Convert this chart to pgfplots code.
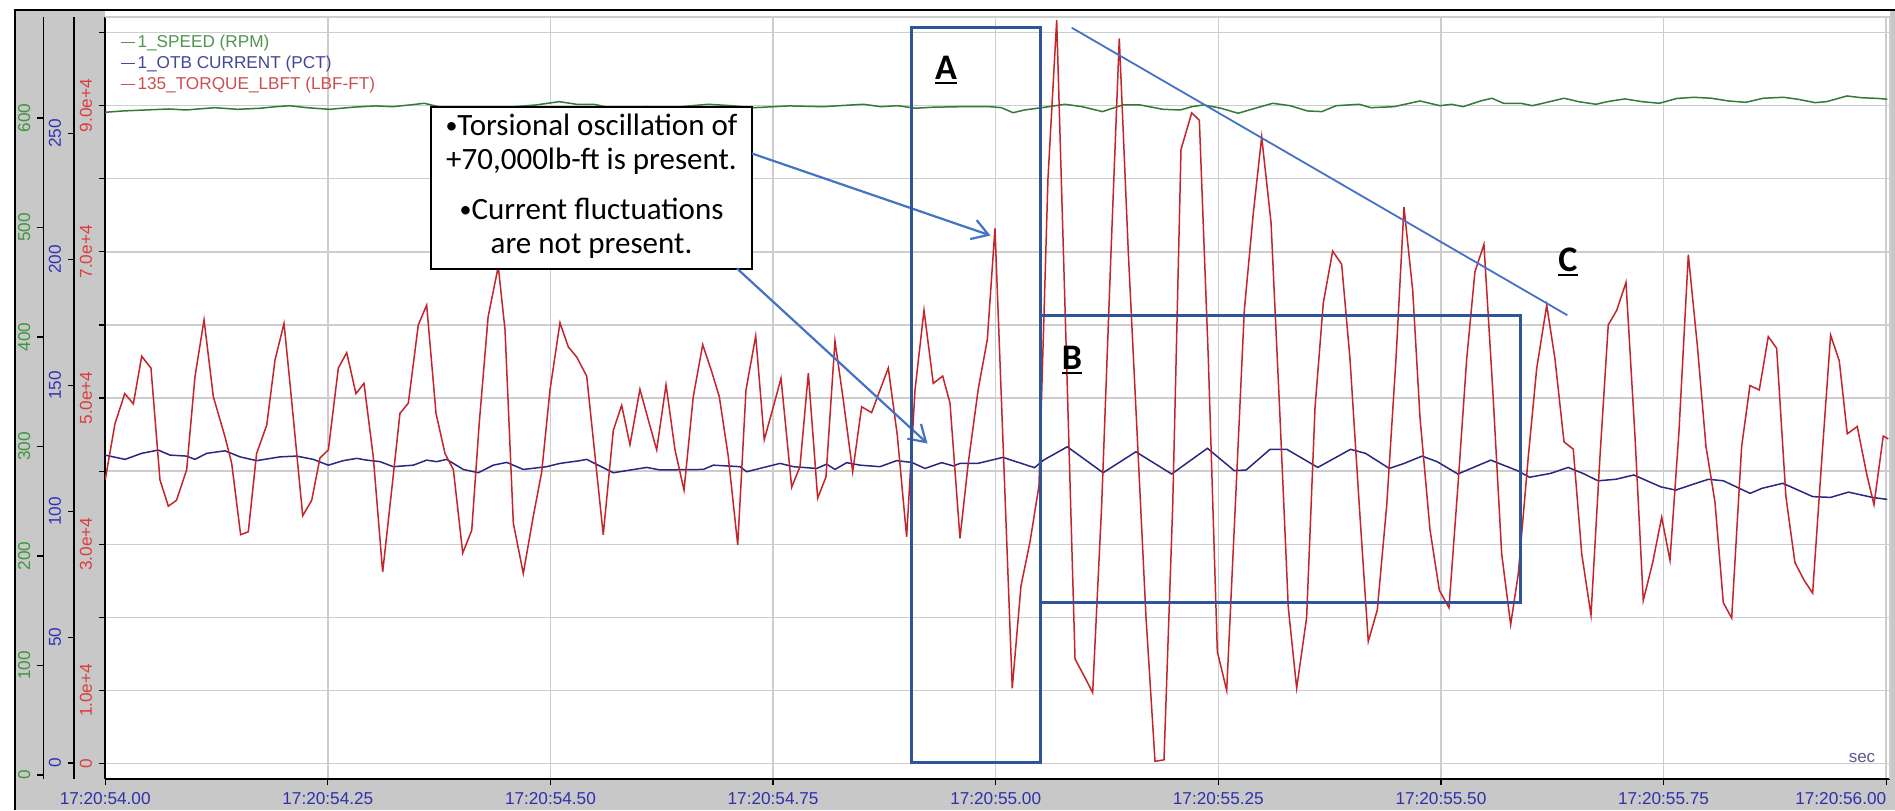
\documentclass[border=0pt]{standalone}
\usepackage{fontspec}
\setmainfont{Liberation Sans}
\newfontfamily\calfont{Carlito}
\usepackage{pgfplots}
\pgfplotsset{compat=1.18}
\usetikzlibrary{arrows.meta}

\definecolor{trq}{RGB}{196,36,44}
\definecolor{cur}{RGB}{40,40,130}
\definecolor{spd}{RGB}{52,122,52}
\definecolor{gridc}{RGB}{205,205,205}
\definecolor{strip}{RGB}{200,200,200}
\definecolor{tickblue}{RGB}{48,48,170}
\definecolor{lblgreen}{RGB}{60,150,60}
\definecolor{lblblue}{RGB}{50,50,185}
\definecolor{lblred}{RGB}{222,60,60}
\definecolor{leggreen}{RGB}{80,150,80}
\definecolor{legblue}{RGB}{70,70,150}
\definecolor{legred}{RGB}{205,80,80}
\definecolor{annoDark}{RGB}{47,85,151}
\definecolor{annoLight}{RGB}{68,114,196}
\definecolor{secgray}{RGB}{90,90,140}

\newcommand\ul[1]{\setbox0\hbox{#1}\rlap{\rule[-2.6pt]{\wd0}{1.3pt}}\box0}
\newcommand\bul{\raisebox{0.8pt}{\fontsize{12}{12}\selectfont•}}

\pgfplotsset{
  common/.style={
    at={(52.6pt,-389.5pt)}, anchor=south west,
    scale only axis, width=892.4pt, height=381pt,
    xmin=0, xmax=2.0043, clip=true},
  ticklbl/.style={font=\fontsize{8.6}{10}\selectfont},
}

\begin{document}
\begin{tikzpicture}
\path[use as bounding box] (0pt,0pt) rectangle (947.5pt,-405pt);
\fill[white] (0pt,0pt) rectangle (947.5pt,-405pt);
\fill[strip] (7.5pt,-5pt) rectangle (947.5pt,-405pt);
\fill[white] (52.6pt,-5pt) rectangle (945pt,-389.5pt);
\draw[black,line width=1pt] (7.5pt,-405pt) -- (7.5pt,-5pt) -- (947.5pt,-5pt);

% ---------- main axis: grid, x ticks, torque scale, legend ----------
\begin{axis}[common,
  ymin=-2120, ymax=102120,
  axis x line*=bottom, axis y line*=left,
  axis line style={black, line width=0.8pt},
  tick align=outside, major tick length=3pt,
  tick style={black, line width=0.6pt},
  xtick={0,0.25,0.5,0.75,1,1.25,1.5,1.75,2},
  xticklabels={17:20:54.00,17:20:54.25,17:20:54.50,17:20:54.75,17:20:55.00,17:20:55.25,17:20:55.50,17:20:55.75,\makebox[0pt][r]{17:20:56.00}},
  xticklabel style={ticklbl, text=tickblue},
  ytick={0,10000,20000,30000,40000,50000,60000,70000,80000,90000,100000},
  yticklabels={0,1.0e+4,{},3.0e+4,{},5.0e+4,{},7.0e+4,{},9.0e+4,{}},
  yticklabel style={ticklbl, text=lblred, rotate=90, anchor=south},
  scaled y ticks=false,
  grid=major, major grid style={gridc, line width=0.7pt},
  legend style={at={(0.0049,0.986)}, anchor=north west, draw=none, fill=none,
    font=\fontsize{8.6}{10}\selectfont, row sep=0.3pt,
    nodes={inner sep=1pt, text height=6.5pt, text depth=1.8pt}},
  legend cell align=left,
  legend image code/.code={\draw[#1, line width=0.6pt] (-1pt,0pt) -- (6pt,0pt);},
]
\addlegendimage{leggreen}
\addlegendentry{\textcolor{leggreen}{1\_SPEED (RPM)}}
\addlegendimage{legblue}
\addlegendentry{\textcolor{legblue}{1\_OTB CURRENT (PCT)}}
\addlegendimage{legred}
\addlegendentry{\textcolor{legred}{135\_TORQUE\_LBFT (LBF-FT)}}
\end{axis}

% ---------- current ----------
\begin{axis}[common, ymin=-6.35, ymax=296.3, hide axis]
\addplot[cur, line width=0.75pt] coordinates {
(0,122.3) (0.0222,120.6) (0.0410,123.0) (0.0596,124.3) (0.0728,122.3) (0.0915,121.9)
(0.1008,120.6) (0.1140,123.0) (0.1345,124.0) (0.1514,121.6) (0.1701,120.1) (0.1963,121.6)
(0.2150,121.9) (0.2337,120.6) (0.2505,118.3) (0.2674,120.1) (0.2824,121.0) (0.2937,120.3)
(0.3086,119.7) (0.3235,117.7) (0.3460,118.3) (0.3610,120.3) (0.3723,119.7) (0.3835,120.6)
(0.4021,116.6) (0.4190,115.3) (0.4358,118.3) (0.4509,119.4) (0.4695,116.6) (0.4958,117.7)
(0.5107,119.0) (0.5332,120.1) (0.5407,120.6) (0.5706,115.3) (0.6081,117.4) (0.6230,116.4)
(0.6716,116.6) (0.6829,118.3) (0.7129,117.7) (0.7204,115.7) (0.7578,119.0) (0.7727,117.7)
(0.7990,117.0) (0.8102,118.7) (0.8195,116.6) (0.8327,119.3) (0.8476,118.3) (0.8701,117.7)
(0.8888,120.1) (0.9057,119.4) (0.9206,117.0) (0.9394,119.3) (0.9524,118.0) (0.9599,119.0)
(0.9800,119.0) (1.0081,121.4) (1.0436,117.3) (1.0537,120.3) (1.0804,125.6) (1.1206,115.3)
(1.1574,123.6) (1.1976,114.8) (1.2378,125.0) (1.2679,116.1) (1.2813,116.4) (1.3081,124.6)
(1.3269,124.6) (1.3617,117.4) (1.3985,124.6) (1.4153,123.0) (1.4420,117.0) (1.4587,119.0)
(1.4788,121.9) (1.4956,119.7) (1.5190,114.8) (1.5559,120.3) (1.5860,116.1) (1.5994,113.5)
(1.6228,115.0) (1.6429,117.4) (1.6596,115.0) (1.6764,112.1) (1.6965,112.7) (1.7166,114.4)
(1.7468,109.7) (1.7635,108.4) (1.8003,112.7) (1.8171,112.1) (1.8472,107.1) (1.8605,109.1)
(1.8840,111.1) (1.9175,105.8) (1.9376,105.5) (1.9577,107.6) (1.9844,105.5) (2.0012,104.7)
};
\end{axis}

% ---------- speed ----------
\begin{axis}[common, ymin=-3.65, ymax=692.2, hide axis]
\addplot[spd, line width=0.75pt] coordinates {
(0,605.2) (0.020,606.4) (0.0457,607.3) (0.0715,608.2) (0.0908,607.3) (0.1231,609.4)
(0.1489,607.9) (0.1746,608.9) (0.1875,610.0) (0.2069,611.2) (0.2263,609.4) (0.2520,607.9)
(0.2778,609.8) (0.3035,611.0) (0.3230,610.3) (0.3423,611.9) (0.3583,613.4) (0.3745,610.3)
(0.4067,608.9) (0.4454,609.4) (0.4841,611.9) (0.5098,614.9) (0.5293,612.5) (0.5486,612.5)
(0.5743,608.2) (0.6065,610.3) (0.6389,609.8) (0.6775,612.5) (0.7033,611.2) (0.7290,609.4)
(0.7678,611.0) (0.8064,610.3) (0.8386,611.9) (0.8515,612.5) (0.8709,610.3) (0.8902,611.2)
(0.9096,608.9) (0.9289,609.8) (0.9611,610.3) (0.9936,610.3) (1.0065,609.4) (1.0195,604.8)
(1.0324,607.3) (1.0519,609.4) (1.0778,612.5) (1.0972,610.3) (1.1199,605.8) (1.1426,611.9)
(1.1620,611.9) (1.1880,607.9) (1.2074,607.3) (1.2204,610.3) (1.2333,611.9) (1.2528,608.9)
(1.2722,604.3) (1.2916,608.9) (1.3111,613.4) (1.3306,611.2) (1.3500,606.4) (1.3662,605.8)
(1.3824,611.2) (1.4083,612.5) (1.4212,609.4) (1.4472,610.3) (1.4764,615.5) (1.4990,611.2)
(1.5120,612.5) (1.5250,610.3) (1.5444,615.5) (1.5573,618.0) (1.5703,613.4) (1.5898,613.4)
(1.6027,611.2) (1.6221,614.9) (1.6383,618.0) (1.6546,614.9) (1.6740,612.5) (1.6869,614.9)
(1.7064,617.4) (1.7259,614.9) (1.7453,613.4) (1.7647,617.8) (1.7842,618.9) (1.8036,618.0)
(1.8230,615.5) (1.8425,614.3) (1.8619,618.0) (1.8846,618.9) (1.9007,617.1) (1.9202,614.0)
(1.9332,614.9) (1.9559,620.1) (1.9720,618.5) (1.9915,617.8) (2.0012,617.1)
};
\end{axis}

% ---------- torque ----------
\begin{axis}[common, ymin=-2120, ymax=102120, hide axis]
\addplot[trq, line width=0.75pt] coordinates {
(0,38800) (0.011,46500) (0.022,50600) (0.0316,49200) (0.041,55700) (0.0514,54100)
(0.0615,38800) (0.0709,35200) (0.080,36000) (0.0915,40200) (0.1008,52900) (0.111,60700)
(0.1214,50200) (0.1345,44700) (0.142,41100) (0.1521,31300) (0.1607,31700) (0.170,42400)
(0.1814,46300) (0.1907,55200) (0.2008,60200) (0.2075,52000) (0.2218,33900) (0.2319,36000)
(0.2412,41800) (0.2506,42900) (0.2618,54100) (0.2712,56200) (0.2816,50600) (0.2906,52000)
(0.301,42000) (0.3116,26200) (0.3217,37400) (0.331,47900) (0.3404,49300) (0.3516,60000)
(0.361,62700) (0.3715,47900) (0.3816,42400) (0.391,40200) (0.4015,28800) (0.4116,31900)
(0.420,46500) (0.430,61100) (0.4414,68000) (0.449,59300) (0.4583,32900) (0.4695,26000)
(0.4807,33800) (0.4902,39900) (0.4995,51100) (0.5107,60300) (0.5200,57000) (0.5295,55600)
(0.5407,53000) (0.5593,31300) (0.5706,45600) (0.5800,49000) (0.5893,43600) (0.6005,51200)
(0.6099,47000) (0.6193,42900) (0.6298,51800) (0.6399,42900) (0.6500,37400) (0.6604,50200)
(0.6710,57300) (0.6811,53600) (0.6896,50200) (0.6997,42000) (0.7103,29900) (0.7196,51100)
(0.7305,58500) (0.7401,44300) (0.7503,48800) (0.7589,52700) (0.7709,37800) (0.7802,40600)
(0.7896,53400) (0.8001,36300) (0.8094,39200) (0.8195,57800) (0.8289,49700) (0.8394,39900)
(0.8495,48800) (0.8607,48000) (0.8701,51100) (0.8794,54100) (0.8895,44900) (0.9000,31000)
(0.9094,51100) (0.9195,62000) (0.9299,52000) (0.9405,53000) (0.9487,49300) (0.9599,30800)
(0.9692,41100) (0.9805,51300) (0.9906,58000) (0.9992,73200) (1.0186,10300) (1.0284,24300)
(1.0385,30300) (1.0486,38000) (1.0587,80000) (1.0685,101700) (1.0789,58000) (1.0891,14300)
(1.0992,12000) (1.1089,9700) (1.1190,35300) (1.1291,68700) (1.1388,99200) (1.1489,70000)
(1.1590,44700) (1.1688,20000) (1.1789,300) (1.1890,500) (1.1988,35300) (1.2081,84000)
(1.2201,89000) (1.2287,88000) (1.2388,55300) (1.2489,15300) (1.2594,10000) (1.2691,35300)
(1.2792,62000) (1.2893,75300) (1.2987,85700) (1.3092,74000) (1.3193,47300) (1.3286,21300)
(1.3380,10300) (1.3492,20000) (1.3586,48700) (1.3679,63000) (1.3784,70100) (1.3885,68300)
(1.3979,55300) (1.4083,35300) (1.4184,16700) (1.4285,21000) (1.4391,35300) (1.4495,55300)
(1.4585,76100) (1.4683,64700) (1.4765,47300) (1.4877,32000) (1.4982,23700) (1.5090,21300)
(1.5195,38700) (1.5289,55300) (1.5382,67300) (1.5483,71000) (1.5581,51300) (1.5682,28700)
(1.5783,19000) (1.5869,26000) (1.5981,42000) (1.6075,54000) (1.6188,62700) (1.6281,55300)
(1.6382,44000) (1.6486,43000) (1.6581,28700) (1.6685,20300) (1.6786,42000) (1.6879,60000)
(1.6974,62000) (1.7078,65800) (1.7179,44800) (1.7272,22300) (1.7378,27500) (1.7479,33700)
(1.7572,27800) (1.7673,45400) (1.7778,69600) (1.7879,57200) (1.7976,43400) (1.8077,35800)
(1.8171,22000) (1.8265,19900) (1.8377,43400) (1.8470,51700) (1.8575,51100) (1.8676,58400)
(1.8770,56800) (1.8874,36500) (1.8975,27500) (1.9077,25100) (1.9174,23300) (1.9275,41300)
(1.9376,58600) (1.9473,55100) (1.9563,45100) (1.9675,46100) (1.9781,39600) (1.9863,35400)
(1.9967,44800) (2.0023,44400)
};
\end{axis}

% ---------- separate scales for speed and current ----------
\begin{axis}[at={(21.65pt,-389.5pt)}, anchor=south west, scale only axis,
  width=1pt, height=381pt, xmin=0, xmax=1, ymin=-3.65, ymax=692.2,
  hide x axis, axis y line*=left, axis line style={black, line width=0.8pt},
  tick align=outside, major tick length=3pt, tick style={black, line width=0.6pt},
  ytick={0,100,200,300,400,500,600}, yticklabels={0,100,200,300,400,500,600},
  yticklabel style={ticklbl, text=lblgreen, rotate=90, anchor=south}]
\end{axis}
\begin{axis}[at={(37pt,-389.5pt)}, anchor=south west, scale only axis,
  width=1pt, height=381pt, xmin=0, xmax=1, ymin=-6.35, ymax=296.3,
  hide x axis, axis y line*=left, axis line style={black, line width=0.8pt},
  tick align=outside, major tick length=3pt, tick style={black, line width=0.6pt},
  ytick={0,50,100,150,200,250}, yticklabels={0,50,100,150,200,250},
  yticklabel style={ticklbl, text=lblblue, rotate=90, anchor=south}]
\end{axis}

% ---------- annotations (full-size pixel units) ----------
\begin{scope}[x=0.5pt,y=-0.5pt]
\draw[gridc, line width=0.7pt] (105.2,17) -- (1890,17) -- (1890,779);
\node[font=\fontsize{8.5}{10}\selectfont, text=secgray] at (1862,758) {sec};
\draw[black, line width=1.2pt, fill=white] (431,107) rectangle (752,269);
\begin{scope}[every node/.style={font=\calfont\fontsize{15.5}{18}\selectfont, anchor=base}]
\node at (591.5,135.5) {\bul Torsional oscillation of};
\node at (591.5,169.5) {+70,000lb-ft is present.};
\node at (591.5,219) {\bul Current fluctuations};
\node at (591.5,253) {are not present.};
\end{scope}
\draw[annoLight, line width=1.1pt, -{Straight Barb[length=8pt,width=10pt]}] (752,153.5) -- (990.5,235.5);
\draw[annoLight, line width=1.1pt, -{Straight Barb[length=8pt,width=10pt]}] (737,268.5) -- (927.5,443.5);
\draw[annoDark, line width=1.5pt] (911.7,27.5) rectangle (1040,762);
\draw[annoDark, line width=1.5pt] (1040,315.5) rectangle (1520,602.5);
\draw[annoLight, line width=0.9pt] (1071.7,27.7) -- (1567.3,315.2);
\begin{scope}[every node/.style={font=\calfont\bfseries\fontsize{18}{20}\selectfont}]
\node at (946,70) {\ul{A}};
\node at (1072,360) {\ul{B}};
\node at (1568,262) {\ul{C}};
\end{scope}
\end{scope}
\end{tikzpicture}
\end{document}
